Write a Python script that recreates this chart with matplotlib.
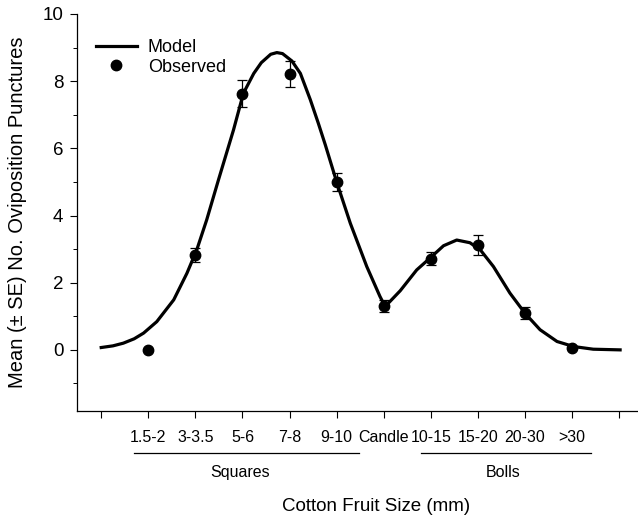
import numpy as np
import matplotlib
matplotlib.use("Agg")
import matplotlib.pyplot as plt
from matplotlib.ticker import MultipleLocator

# Observed means (+/- SE) per fruit-size class
categories = ["1.5-2", "3-3.5", "5-6", "7-8", "9-10", "Candle",
              "10-15", "15-20", "20-30", ">30"]
obs_x = [1, 2, 3, 4, 5, 6, 7, 8, 9, 10]
obs_mean = [0.0, 2.83, 7.62, 8.22, 5.0, 1.30, 2.72, 3.12, 1.10, 0.06]
obs_se = [0.0, 0.2, 0.4, 0.38, 0.28, 0.18, 0.18, 0.3, 0.17, 0.0]

# Model curve
model_x = [0.0, 0.25, 0.47, 0.7, 0.9, 1.18, 1.54, 1.82, 2.03, 2.24, 2.49,
           2.81, 3.02, 3.24, 3.4, 3.6, 3.73, 3.85, 4.05, 4.23, 4.44, 4.61,
           4.76, 5.0, 5.29, 5.64, 5.92, 6.03, 6.35, 6.7, 7.02, 7.27, 7.55,
           7.83, 8.05, 8.33, 8.68, 9.0, 9.32, 9.68, 10.03, 10.45, 11.02]
model_y = [0.07, 0.12, 0.2, 0.33, 0.5, 0.84, 1.49, 2.28, 2.98, 3.87, 5.06,
           6.55, 7.64, 8.23, 8.55, 8.8, 8.85, 8.82, 8.6, 8.23, 7.45, 6.75,
           6.1, 5.0, 3.77, 2.48, 1.59, 1.29, 1.76, 2.38, 2.78, 3.1, 3.27,
           3.19, 2.98, 2.48, 1.69, 1.09, 0.6, 0.25, 0.1, 0.02, 0.0]

plt.rcParams['font.family'] = ['Liberation Sans', 'DejaVu Sans']
plt.rcParams['font.size'] = 12

fig = plt.figure(figsize=(6.38, 5.17), dpi=100)
ax = fig.add_axes([0.121, 0.205, 0.879, 0.768])

ax.plot(model_x, model_y, color='black', linewidth=2.3, label='Model')
ax.errorbar(obs_x, obs_mean, yerr=obs_se, fmt='none', ecolor='black',
            elinewidth=0.9, capsize=3.5, capthick=0.9)
ax.plot(obs_x, obs_mean, 'o', color='black', markersize=7.5,
        label='Observed')

ax.set_xlim(-0.51, 11.4)
ax.set_ylim(-1.82, 10)
ax.set_xticks(range(0, 12))
ax.set_xticklabels([""] + categories + [""])
ax.yaxis.set_major_locator(MultipleLocator(2))
ax.yaxis.set_minor_locator(MultipleLocator(1))
ax.set_yticks([0, 2, 4, 6, 8, 10])
ax.tick_params(axis='both', which='major', direction='out', length=5,
               width=0.8)
ax.tick_params(axis='x', labelsize=11.5, pad=9)
ax.tick_params(axis='y', labelsize=13.5, pad=5)
ax.tick_params(axis='y', which='minor', direction='out', length=3, width=0.7)
for sp in ['top', 'right']:
    ax.spines[sp].set_visible(False)
for sp in ['left', 'bottom']:
    ax.spines[sp].set_linewidth(0.9)

# group brackets under the tick labels
tr = ax.get_xaxis_transform()
ax.plot([0.70, 5.48], [-0.106, -0.106], transform=tr, color='black',
        linewidth=0.9, clip_on=False)
ax.plot([6.79, 10.4], [-0.106, -0.106], transform=tr, color='black',
        linewidth=0.9, clip_on=False)
ax.text(2.95, -0.156, "Squares", transform=tr, ha='center', va='center',
        fontsize=11.5)
ax.text(8.54, -0.156, "Bolls", transform=tr, ha='center', va='center',
        fontsize=11.5)

fig.text(0.589, 0.021, "Cotton Fruit Size (mm)", ha='center', va='center',
         fontsize=13.5)
fig.text(0.027, 0.59, "Mean (± SE) No. Oviposition Punctures", rotation=90,
         ha='center', va='center', fontsize=14.5)

ax.legend(loc='upper left', bbox_to_anchor=(0.02, 0.955), frameon=False,
          fontsize=13, handlelength=2.3, handletextpad=0.6,
          labelspacing=0.15, borderaxespad=0)

fig.savefig("out.png", dpi=100)
